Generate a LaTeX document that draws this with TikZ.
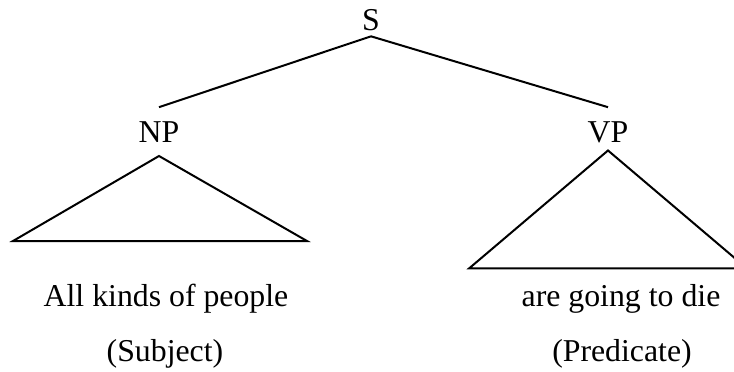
\documentclass[tikz,border=0pt]{standalone}
\usepackage{fontspec}
\setmainfont{Liberation Serif}
\begin{document}
\begin{tikzpicture}[x=0.5pt,y=-0.5pt,line width=1pt,
  cat/.style={anchor=base,inner sep=6.5pt,font=\fontsize{15.9}{19}\selectfont},
  leaf/.style={anchor=base,inner sep=0pt,font=\fontsize{15.9}{19}\selectfont}]
\useasboundingbox (0,0) rectangle (734,371);
\node[cat,inner sep=2.5pt] (s) at (371,30) {S};
\node[cat] (np) at (159,142) {NP};
\node[cat] (vp) at (608,142) {VP};
\draw (s.south) -- (np.north);
\draw (s.south) -- (vp.north);
\draw (np.south) -- ++(-146,85) -- ++(294,0) -- cycle;
\draw ([yshift=3pt]vp.south) -- ++(-139,118) -- ++(278,0) -- cycle;
\node[leaf] (subj) at (166,306) {All kinds of people};
\node[leaf] (subjlbl) at (165,361) {(Subject)};
\node[leaf] (pred) at (621,306) {are going to die};
\node[leaf] (predlbl) at (622,361) {(Predicate)};
\end{tikzpicture}
\end{document}
